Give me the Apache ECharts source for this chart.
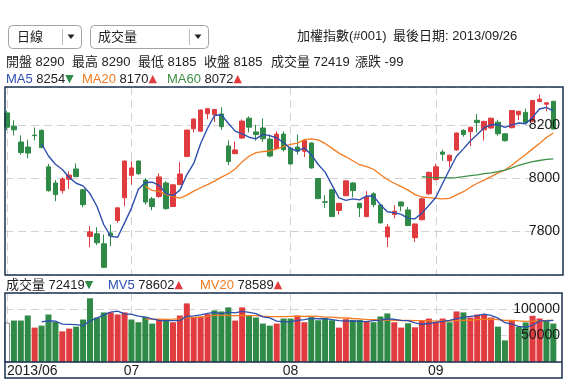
<!DOCTYPE html>
<html><head><meta charset="utf-8">
<script src="https://cdn.jsdelivr.net/npm/echarts@6/dist/echarts.min.js"></script>
<style>html,body{margin:0;padding:0;background:#fff;}#c{width:568px;height:381px;}</style>
</head><body><div id="c"></div>
<script>
// ---- data (index 0 = first trading day of 2013/06, index 79 = 2013/09/26) ----
const openPrices = [8246,8196,8136,8117,8162,8180,8042,7981,7952,7995,
8034,7955,7779,7789,7751,7792,7839,7925,8010,8064,
7992,7921,7930,7981,7892,7975,8081,8186,8177,8243,
8239,8242,8121,8092,8151,8226,8174,8189,8147,8111,
8166,8113,8117,8101,8132,7998,7910,7955,7877,7933,
7981,7904,7854,7940,7898,7777,7862,7909,7879,7774,
7842,7940,7994,8098,8065,8106,8180,8175,8218,8182,
8189,8211,8167,8190,8239,8248,8214,8289,8279,8290];
const closePrices = [8192,8182,8096,8094,8160,8115,7952,7937,7996,8011,
8005,7899,7796,7755,7662,7781,7887,8064,8038,8016,
7909,7892,8004,7884,7974,8015,8181,8223,8257,8262,
8259,8194,8062,8106,8215,8192,8164,8148,8083,8166,
8107,8053,8101,8141,8038,7922,7908,7854,7904,7989,
7952,7887,7928,7899,7830,7815,7874,7894,7820,7826,
7921,8021,8042,8090,8086,8170,8164,8192,8209,8214,
8226,8167,8141,8255,8252,8209,8293,8298,8284,8185];
const highPrices = [8255,8218,8161,8145,8191,8184,8053,7992,8003,8025,
8055,7958,7818,7814,7786,7824,7889,8066,8063,8066,
8000,7928,8018,7987,7977,8060,8183,8225,8259,8264,
8261,8267,8142,8138,8221,8233,8201,8225,8164,8176,
8176,8117,8164,8143,8135,8000,7935,7958,7906,7991,
7984,7906,7950,7946,7900,7826,7897,7911,7890,7828,
7925,8025,8054,8107,8088,8172,8184,8194,8242,8216,
8228,8220,8169,8257,8254,8262,8295,8315,8287,8290];
const lowPrices = [8180,8161,8088,8074,8142,8112,7948,7912,7941,7958,
8003,7889,7738,7746,7660,7742,7830,7893,7975,8012,
7899,7878,7925,7880,7890,7973,8079,8172,8175,8222,
8211,8182,8048,8090,8148,8172,8141,8136,8078,8108,
8100,8050,8088,8079,8035,7920,7887,7852,7862,7931,
7927,7852,7852,7889,7828,7738,7847,7874,7818,7758,
7840,7935,7990,8065,8040,8103,8156,8120,8172,8141,
8186,8160,8138,8188,8219,8205,8212,8287,8252,8185];
const volumes = [74300,78100,78100,87600,64800,68500,89500,75500,57700,62900,
66600,80000,120000,83800,93400,93400,89500,93400,80000,74900,
85100,72400,80000,77400,74900,87600,110400,85100,85100,90100,
97100,95200,102900,78100,102900,88200,83800,72400,68500,72400,
81900,81900,87600,74900,84400,78700,82600,78700,64800,80700,
79300,79300,75500,74900,85700,91500,74900,64800,73000,65400,
77400,81900,75500,81900,74900,95200,93400,83800,89500,89500,
83800,66600,40700,77400,66600,74500,87000,82000,77100,72419];
// moving averages as drawn (first value sits at the given start index)
const ma5Start = 5;
const ma5 = [8129,8083,8052,8032,8002,7980,7970,7941,7893,7823,7779,7776,7830,7886,7957,
7983,7984,7972,7941,7933,7954,8012,8055,8130,8188,8236,8239,8207,8177,8167,
8154,8148,8165,8160,8151,8134,8111,8102,8114,8088,8051,8022,7973,7925,7915,
7921,7917,7932,7931,7899,7872,7869,7862,7847,7846,7867,7896,7926,7980,8032,
8082,8110,8140,8164,8190,8201,8202,8191,8201,8208,8205,8230,8261,8267,8254];
const ma20Start = 20;
const ma20 = [7968,7953,7949,7938,7929,7924,7935,7950,7963,7975,
7988,8003,8016,8034,8061,8082,8096,8100,8102,8110,
8119,8127,8132,8145,8148,8144,8130,8112,8094,8080,
8065,8050,8043,8033,8013,7994,7980,7967,7954,7937,
7928,7926,7923,7921,7923,7936,7948,7965,7980,7992,
8005,8019,8030,8048,8069,8089,8110,8130,8153,8170];
const ma60Start = 60;
const ma60 = [8005,8002,8001,8001,8000,8001,8005,8009,8012,8016,
8019,8024,8030,8038,8048,8055,8062,8066,8070,8072];
const mv5Start = 5;
const mv5 = [75420,77700,77180,71200,70820,70440,68540,77440,82660,88760,94120,96020,90700,89940,86240,
84580,81160,78480,77960,77960,78460,86060,87080,88620,91660,93560,90520,94080,92680,95240,
93460,91180,85080,83160,77060,75800,75420,78460,79740,82140,81500,81640,79860,77840,77100,
77220,76560,75920,77940,78940,81380,80500,78360,77980,73920,71100,72500,74640,76420,78320,
81880,84180,85840,87360,90280,88000,82640,74020,71600,67020,65160,69240,77500,77440,78602];
const mv20Start = 20;
const mv20 = [81140,80855,80950,80440,80945,81900,82945,83425,84795,86155,
87680,88440,87585,87300,87775,87515,87230,86180,85605,85480,
85320,85795,86175,86050,86525,86080,84690,84370,83355,82885,
81995,81200,79830,79670,78810,78975,78530,78150,78375,78025,
77800,77800,77195,77545,77070,77895,78435,78690,79925,80365,
80590,79955,78215,78340,77385,76535,77140,78000,78205,78589];
const monthTicks = [0, 18, 41, 62];
const monthLabels = ['2013/06', '07', '08', '09'];

// ---- styles ----
const FONT = '"Liberation Sans", "Noto Sans CJK TC", sans-serif';
const RED = '#e03c3f', GREEN = '#2f8a47', BLUE = '#2d4fae', ORANGE = '#f47b1f', DGREEN = '#3d8f46';
const FRAME = '#1d3152';
const DASH = {type: [8, 5], color: '#d2d2d2', width: 1};
const X_MIN = -0.29, X_MAX = 80.4;
const plain = v => String(Math.round(v));

const candleData = openPrices.map((o, i) => [i, o, closePrices[i], lowPrices[i], highPrices[i]]);
const seriesFrom = (arr, start) => arr.map((v, k) => [start + k, v]);
const volData = volumes.map((v, i) => {
  if (i === 0) return {value: [i, v], itemStyle: {color: '#ffffff', borderColor: '#8a8a8a', borderWidth: 1}};
  return {value: [i, v], itemStyle: {color: closePrices[i] >= closePrices[i - 1] ? RED : GREEN}};
});

function txt(x, y, text, extra) {
  return {type: 'text', x: x, y: y, z: 50, silent: true,
    style: Object.assign({text: text, fill: '#222', font: '13px ' + FONT, verticalAlign: 'middle', align: 'left'}, extra || {})};
}
function rich(x, y, label, labelColor, value, arrow, arrowColor) {
  return {type: 'text', x: x, y: y, z: 50, silent: true,
    style: {text: '{a|' + label + '} {v|' + value + '}{t|' + arrow + '}', verticalAlign: 'middle', align: 'left',
      font: '13px ' + FONT,
      rich: {a: {fill: labelColor, fontSize: 13, fontFamily: FONT},
             v: {fill: '#222', fontSize: 13, fontFamily: FONT},
             t: {fill: arrowColor, fontSize: 11, fontFamily: '"DejaVu Sans", sans-serif'}}}};
}

const graphics = [
  {type: 'rect', z: 40, shape: {x: 8.5, y: 25.5, width: 73, height: 23, r: 4}, style: {fill: '#fff', stroke: '#a3a3a3', lineWidth: 1}},
  {type: 'line', z: 41, shape: {x1: 62.5, y1: 29, x2: 62.5, y2: 45}, style: {stroke: '#bdbdbd', lineWidth: 1}},
  {type: 'polygon', z: 41, shape: {points: [[67.5, 34.5], [74.5, 34.5], [71, 39]]}, style: {fill: '#222'}},
  txt(17, 37, '日線'),
  {type: 'rect', z: 40, shape: {x: 90.5, y: 25.5, width: 118, height: 23, r: 4}, style: {fill: '#fff', stroke: '#a3a3a3', lineWidth: 1}},
  {type: 'line', z: 41, shape: {x1: 189.5, y1: 29, x2: 189.5, y2: 45}, style: {stroke: '#bdbdbd', lineWidth: 1}},
  {type: 'polygon', z: 41, shape: {points: [[194.5, 34.5], [201.5, 34.5], [198, 39]]}, style: {fill: '#222'}},
  txt(98, 37, '成交量'),
  txt(297, 36, '加權指數(#001)'),
  txt(393, 36, '最後日期: 2013/09/26'),
  txt(6, 62, '開盤 8290'), txt(72, 62, '最高 8290'), txt(138, 62, '最低 8185'),
  txt(204, 62, '收盤 8185'), txt(271, 62, '成交量 72419'), txt(355, 62, '漲跌 -99'),
  rich(6, 79, 'MA5', BLUE, '8254', '▼', GREEN),
  rich(82, 79, 'MA20', ORANGE, '8170', '▲', RED),
  rich(167, 79, 'MA60', DGREEN, '8072', '▲', RED),
  rich(6, 285, '成交量', '#222', '72419', '▼', GREEN),
  rich(108, 285, 'MV5', BLUE, '78602', '▲', RED),
  rich(200, 285, 'MV20', ORANGE, '78589', '▲', RED),
  {type: 'rect', z: 100, silent: true, shape: {x: 5, y: 87, width: 558, height: 188}, style: {fill: 'none', stroke: FRAME, lineWidth: 1.5}},
  {type: 'rect', z: 100, silent: true, shape: {x: 5, y: 293, width: 557, height: 85}, style: {fill: 'none', stroke: FRAME, lineWidth: 1.5}},
  {type: 'line', z: 100, silent: true, shape: {x1: 5, y1: 362, x2: 562, y2: 362}, style: {stroke: FRAME, lineWidth: 1.5}}
];

const chart = echarts.init(document.getElementById('c'));
chart.setOption({
  animation: false,
  backgroundColor: '#fff',
  grid: [
    {left: 5, top: 87, width: 558, height: 188},
    {left: 5, top: 293, width: 558, height: 69}
  ],
  xAxis: [
    {type: 'value', gridIndex: 0, min: X_MIN, max: X_MAX,
      axisLine: {show: false}, axisTick: {show: false, customValues: monthTicks},
      axisLabel: {show: false, customValues: monthTicks}, splitLine: {show: true, lineStyle: DASH}},
    {type: 'value', gridIndex: 1, min: X_MIN, max: X_MAX,
      axisLine: {show: false}, axisTick: {show: false, customValues: monthTicks},
      axisLabel: {show: true, customValues: monthTicks, margin: 2, fontSize: 14, color: '#1a1a1a', fontFamily: FONT,
        alignMinLabel: 'left', showMinLabel: true, showMaxLabel: true, hideOverlap: false,
        formatter: function (v) { const k = monthTicks.indexOf(Math.round(v)); return k >= 0 ? monthLabels[k] : ''; }},
      splitLine: {show: true, lineStyle: DASH}}
  ],
  yAxis: [
    {type: 'value', gridIndex: 0, min: 7633, max: 8344, splitNumber: 3, position: 'right', scale: true,
      axisLine: {show: false}, axisTick: {show: false}, axisLabel: {show: false}, splitLine: {show: true, lineStyle: DASH}},
    {type: 'value', gridIndex: 0, min: 7633, max: 8344, splitNumber: 3, position: 'right', scale: true, z: 10,
      axisLine: {show: false}, axisTick: {show: false}, splitLine: {show: false},
      axisLabel: {inside: true, margin: 3, showMinLabel: false, showMaxLabel: false, fontSize: 14, color: '#1a1a1a', fontFamily: FONT, formatter: plain}},
    {type: 'value', gridIndex: 1, min: 0, max: 130000, interval: 50000, position: 'right',
      axisLine: {show: false}, axisTick: {show: false}, axisLabel: {show: false}, splitLine: {show: true, lineStyle: DASH}},
    {type: 'value', gridIndex: 1, min: 0, max: 130000, interval: 50000, position: 'right', z: 10,
      axisLine: {show: false}, axisTick: {show: false}, splitLine: {show: false},
      axisLabel: {inside: true, margin: 3, showMinLabel: false, showMaxLabel: false, fontSize: 14, color: '#1a1a1a', fontFamily: FONT, formatter: plain}}
  ],
  series: [
    {type: 'candlestick', xAxisIndex: 0, yAxisIndex: 0, data: candleData, barWidth: 5, z: 2,
      itemStyle: {color: RED, color0: GREEN, borderColor: RED, borderColor0: GREEN, borderWidth: 1}},
    {type: 'line', xAxisIndex: 0, yAxisIndex: 0, data: seriesFrom(ma20, ma20Start), showSymbol: false, z: 3,
      lineStyle: {color: ORANGE, width: 1.3}},
    {type: 'line', xAxisIndex: 0, yAxisIndex: 0, data: seriesFrom(ma60, ma60Start), showSymbol: false, z: 3,
      lineStyle: {color: DGREEN, width: 1.3}},
    {type: 'line', xAxisIndex: 0, yAxisIndex: 0, data: seriesFrom(ma5, ma5Start), showSymbol: false, z: 4,
      lineStyle: {color: BLUE, width: 1.4}},
    {type: 'bar', xAxisIndex: 1, yAxisIndex: 2, data: volData, barWidth: 6, z: 2},
    {type: 'line', xAxisIndex: 1, yAxisIndex: 2, data: seriesFrom(mv20, mv20Start), showSymbol: false, z: 3,
      lineStyle: {color: ORANGE, width: 1.3}},
    {type: 'line', xAxisIndex: 1, yAxisIndex: 2, data: seriesFrom(mv5, mv5Start), showSymbol: false, z: 4,
      lineStyle: {color: BLUE, width: 1.3}}
  ],
  graphic: graphics
});
</script>
</body></html>
